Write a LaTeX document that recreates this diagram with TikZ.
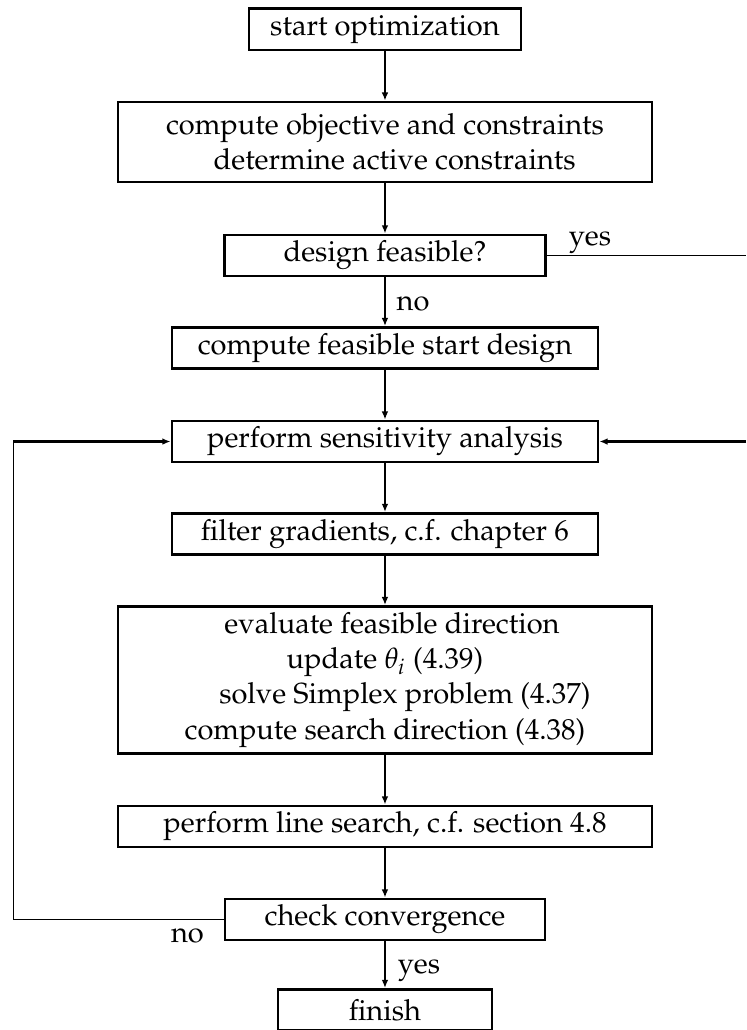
\documentclass[tikz,border=0pt]{standalone}
\usepackage[T1]{fontenc}
\usepackage{mathpazo}
\usepackage{tikz}
\usetikzlibrary{arrows.meta}

\tikzset{
  stepbox/.style={draw, line width=1.2pt, inner sep=0pt, align=center,
    minimum height=0.596cm, font=\fontsize{12}{14.5}\selectfont},
  lbl/.style={anchor=base, inner sep=0pt, font=\fontsize{12}{14.5}\selectfont},
  flow/.style={->, line width=0.8pt},
  loopline/.style={line width=0.4pt},
}

\begin{document}
\begin{tikzpicture}[>={Latex[length=3.4pt,width=2.8pt]}]
			\useasboundingbox (0,0) rectangle (10.836,-14.961);

			% main column
			\node   (start) at (5.592,-0.428) [stepbox, minimum width=3.95cm] {start optimization};
			\node   (comp) at (5.592,-2.063) [stepbox, minimum width=7.756cm, minimum height=1.162cm]
				{compute objective and constraints\\ \hspace*{8pt}determine active constraints};
			\node   (feas) at (5.592,-3.711) [stepbox, minimum width=4.663cm] {design feasible?};
			\node   (fstart) at (5.592,-5.055) [stepbox, minimum width=6.188cm] {compute feasible start design};
			\node   (sens) at (5.592,-6.413) [stepbox, minimum width=6.188cm] {perform sensitivity analysis};
			\node   (filt) at (5.592,-7.756) [stepbox, minimum width=6.188cm] {filter gradients, c.f. chapter 6};
			\node   (dir) at (5.592,-9.877) [stepbox, minimum width=7.756cm, minimum height=2.135cm]
				{\hspace*{5.8pt}evaluate feasible direction\\
				 update $\theta_i$ (4.39)\hspace*{7.4pt}\\
				 \hspace*{16.5pt}solve Simplex problem (4.37)\\
				 compute search direction (4.38)};
			\node   (lsearch) at (5.592,-12.005) [stepbox, minimum width=7.756cm] {perform line search, c.f. section 4.8};
			\node   (conv) at (5.592,-13.356) [stepbox, minimum width=4.648cm] {check convergence};
			\node   (fin) at (5.592,-14.670) [stepbox, minimum width=3.108cm] {finish};

			% branch labels
			\node   (yesA) at (8.570,-3.559) [lbl] {yes};
			\node   (noA) at (5.999,-4.503) [lbl] {no};
			\node   (noB) at (2.723,-13.697) [lbl] {no};
			\node   (yesB) at (6.086,-14.133) [lbl] {yes};

			% loop ends
			\coordinate (yesR) at (10.836,-3.711);
			\coordinate (backR) at (10.836,-6.413);
			\coordinate (backL) at (0.189,-6.413);

			\draw 
			(start) edge[flow] (comp) 
			(comp) edge[flow] (feas)
			(feas) edge[flow] (fstart)
			(fstart) edge[flow] (sens)
			(sens) edge[flow] (filt)
			(filt) edge[flow] (dir)
			(dir) edge[flow] (lsearch)
			(lsearch) edge[flow] (conv)
			(conv) edge[flow] (fin)
			;

			\draw[loopline] (feas.east) -- (yesR);
			\draw[loopline] (conv.west) -| (backL);
			\draw[flow, line width=1.2pt] (backL) -- (sens.west);
			\draw[flow, line width=1.2pt] (backR) -- (sens.east);
		\end{tikzpicture}
\end{document}
